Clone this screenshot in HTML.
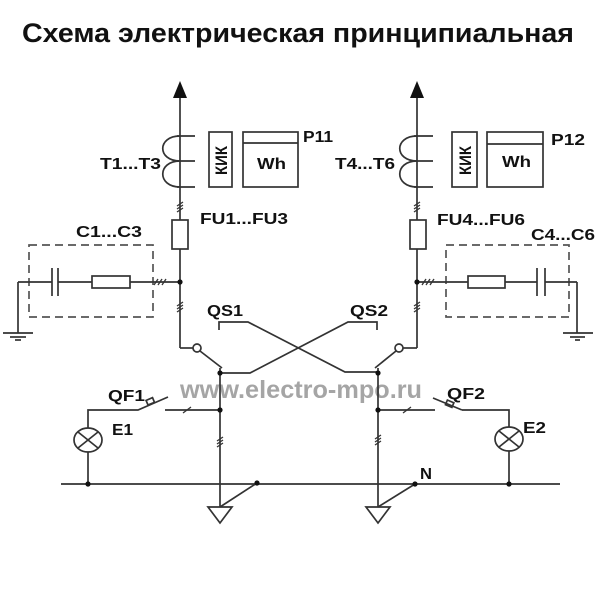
<!DOCTYPE html>
<html><head><meta charset="utf-8"><style>
html,body{margin:0;padding:0;background:#fff;}
svg{display:block;}
text{font-family:"Liberation Sans",Arial,sans-serif;font-weight:bold;fill:#111;}
</style></head><body>
<svg width="600" height="600" viewBox="0 0 600 600" xmlns="http://www.w3.org/2000/svg">
<rect width="600" height="600" fill="#fff"/>
<!-- title -->
<text x="22" y="42" font-size="27" textLength="552" lengthAdjust="spacingAndGlyphs">Схема электрическая принципиальная</text>
<!-- watermark -->
<text x="180" y="398" font-size="25" textLength="242" lengthAdjust="spacingAndGlyphs" style="fill:#a5a5a5">www.electro-mpo.ru</text>

<g stroke="#333" stroke-width="1.7" fill="none">
<!-- LEFT main vertical -->
<line x1="180" y1="95" x2="180" y2="348"/>
<path d="M180,136 C157,136 157,161 180,161 C157,161 157,187 180,187"/>
<line x1="177" y1="136" x2="195" y2="136"/>
<line x1="177" y1="161" x2="195" y2="161"/>
<line x1="177" y1="187" x2="195" y2="187"/>
<rect x="209" y="132" width="23" height="55"/>
<rect x="243" y="132" width="55" height="55"/>
<line x1="243" y1="143" x2="298" y2="143"/>
<rect x="172" y="220" width="16" height="29" fill="#fff"/>
<!-- left C box -->
<rect x="29" y="245" width="124" height="72" stroke-dasharray="8,5" stroke="#555"/>
<line x1="18" y1="282" x2="52" y2="282"/>
<line x1="52" y1="268" x2="52" y2="296"/>
<line x1="58" y1="268" x2="58" y2="296"/>
<line x1="58" y1="282" x2="92" y2="282"/>
<rect x="92" y="276" width="38" height="12"/>
<line x1="130" y1="282" x2="180" y2="282"/>
<line x1="18" y1="282" x2="18" y2="333"/>
<line x1="3" y1="333" x2="33" y2="333"/>
<line x1="10" y1="337" x2="26" y2="337"/>
<line x1="15" y1="340" x2="21" y2="340"/>

<!-- RIGHT main vertical -->
<line x1="417" y1="95" x2="417" y2="348"/>
<path d="M417,136 C394,136 394,161 417,161 C394,161 394,187 417,187"/>
<line x1="414" y1="136" x2="433" y2="136"/>
<line x1="414" y1="161" x2="433" y2="161"/>
<line x1="414" y1="187" x2="433" y2="187"/>
<rect x="452" y="132" width="25" height="55"/>
<rect x="487" y="132" width="56" height="55"/>
<line x1="487" y1="144" x2="543" y2="144"/>
<rect x="410" y="220" width="16" height="29" fill="#fff"/>
<!-- right C box -->
<rect x="446" y="245" width="123" height="72" stroke-dasharray="8,5" stroke="#555"/>
<line x1="417" y1="282" x2="468" y2="282"/>
<rect x="468" y="276" width="37" height="12"/>
<line x1="505" y1="282" x2="537" y2="282"/>
<line x1="537" y1="268" x2="537" y2="296"/>
<line x1="545" y1="268" x2="545" y2="296"/>
<line x1="545" y1="282" x2="577" y2="282"/>
<line x1="577" y1="282" x2="577" y2="333"/>
<line x1="563" y1="333" x2="593" y2="333"/>
<line x1="570" y1="337" x2="585" y2="337"/>
<line x1="575" y1="340" x2="580" y2="340"/>

<!-- ticks on verticals -->
<g stroke-width="1.3">
<line x1="177" y1="206" x2="183" y2="202"/><line x1="177" y1="209" x2="183" y2="205"/><line x1="177" y1="212" x2="183" y2="208"/>
<line x1="177" y1="306" x2="183" y2="302"/><line x1="177" y1="309" x2="183" y2="305"/><line x1="177" y1="312" x2="183" y2="308"/>
<line x1="414" y1="206" x2="420" y2="202"/><line x1="414" y1="209" x2="420" y2="205"/><line x1="414" y1="212" x2="420" y2="208"/>
<line x1="414" y1="306" x2="420" y2="302"/><line x1="414" y1="309" x2="420" y2="305"/><line x1="414" y1="312" x2="420" y2="308"/>
<line x1="217" y1="441" x2="223" y2="437"/><line x1="217" y1="444" x2="223" y2="440"/><line x1="217" y1="447" x2="223" y2="443"/>
<line x1="375" y1="439" x2="381" y2="435"/><line x1="375" y1="442" x2="381" y2="438"/><line x1="375" y1="445" x2="381" y2="441"/>
<!-- ticks on horizontals -->
<line x1="154" y1="285" x2="158" y2="279"/><line x1="158" y1="285" x2="162" y2="279"/><line x1="162" y1="285" x2="166" y2="279"/>
<line x1="422" y1="285" x2="426" y2="279"/><line x1="426" y1="285" x2="430" y2="279"/><line x1="430" y1="285" x2="434" y2="279"/>
<line x1="183" y1="413" x2="191" y2="407"/>
<line x1="403" y1="413" x2="411" y2="407"/>
</g>

<!-- QS1 -->
<line x1="180" y1="348" x2="193" y2="348"/>
<circle cx="197" cy="348" r="4" fill="#fff"/>
<line x1="200" y1="351" x2="222" y2="368"/>
<line x1="220" y1="368" x2="220" y2="507"/>
<polyline points="220,373 250,373 348,322 377,322 377,330"/>
<polyline points="219,330 219,322 248,322 345,372 378,372"/>
<!-- QS2 -->
<line x1="417" y1="348" x2="403" y2="348"/>
<circle cx="399" cy="348" r="4" fill="#fff"/>
<line x1="396" y1="351" x2="375" y2="368"/>
<line x1="378" y1="368" x2="378" y2="507"/>

<!-- QF1 / E1 -->
<polyline points="88,428 88,410 138,410 168,397"/>
<rect x="147" y="399" width="7" height="5" transform="rotate(-23 150 402)"/>
<line x1="165" y1="410" x2="220" y2="410"/>
<ellipse cx="88" cy="440" rx="14" ry="12"/>
<line x1="78" y1="432" x2="98" y2="448"/>
<line x1="98" y1="432" x2="78" y2="448"/>
<line x1="88" y1="452" x2="88" y2="484"/>
<!-- QF2 / E2 -->
<line x1="378" y1="410" x2="435" y2="410"/>
<line x1="433" y1="398" x2="462" y2="410"/>
<rect x="446" y="401" width="7" height="5" transform="rotate(23 449 404)"/>
<polyline points="462,410 509,410 509,427"/>
<ellipse cx="509" cy="439" rx="14" ry="12"/>
<line x1="499" y1="431" x2="519" y2="447"/>
<line x1="519" y1="431" x2="499" y2="447"/>
<line x1="509" y1="451" x2="509" y2="484"/>

<!-- bus -->
<line x1="61" y1="484" x2="560" y2="484"/>
<!-- grounds bottom -->
<polygon points="208,507 232,507 220,523"/>
<line x1="220" y1="507" x2="257" y2="483"/>
<polygon points="366,507 390,507 378,523"/>
<line x1="378" y1="507" x2="415" y2="484"/>
</g>

<!-- arrows -->
<polygon points="180,81 173,98 187,98" fill="#111"/>
<polygon points="417,81 410,98 424,98" fill="#111"/>

<!-- junction dots -->
<g fill="#111">
<circle cx="180" cy="282" r="2.6"/>
<circle cx="417" cy="282" r="2.6"/>
<circle cx="220" cy="373" r="2.6"/>
<circle cx="378" cy="373" r="2.6"/>
<circle cx="220" cy="410" r="2.6"/>
<circle cx="378" cy="410" r="2.6"/>
<circle cx="88" cy="484" r="2.6"/>
<circle cx="509" cy="484" r="2.6"/>
<circle cx="257" cy="483" r="2.6"/>
<circle cx="415" cy="484" r="2.6"/>
</g>

<!-- labels -->
<g font-size="16">
<text x="100" y="169" textLength="61" lengthAdjust="spacingAndGlyphs">T1...T3</text>
<text x="335" y="169" textLength="60" lengthAdjust="spacingAndGlyphs">T4...T6</text>
<text x="257" y="169" textLength="29" lengthAdjust="spacingAndGlyphs">Wh</text>
<text x="502" y="167" textLength="29" lengthAdjust="spacingAndGlyphs">Wh</text>
<text transform="translate(227 175) rotate(-90)" x="0" y="0" font-size="17" textLength="29" lengthAdjust="spacingAndGlyphs">КИК</text>
<text transform="translate(471 175) rotate(-90)" x="0" y="0" font-size="17" textLength="29" lengthAdjust="spacingAndGlyphs">КИК</text>
<text x="303" y="142" textLength="30" lengthAdjust="spacingAndGlyphs">P11</text>
<text x="551" y="145" textLength="34" lengthAdjust="spacingAndGlyphs">P12</text>
<text x="200" y="224" textLength="88" lengthAdjust="spacingAndGlyphs">FU1...FU3</text>
<text x="437" y="225" textLength="88" lengthAdjust="spacingAndGlyphs">FU4...FU6</text>
<text x="76" y="237" textLength="66" lengthAdjust="spacingAndGlyphs">C1...C3</text>
<text x="531" y="240" textLength="64" lengthAdjust="spacingAndGlyphs">C4...C6</text>
<text x="207" y="316" textLength="36" lengthAdjust="spacingAndGlyphs">QS1</text>
<text x="350" y="316" textLength="38" lengthAdjust="spacingAndGlyphs">QS2</text>
<text x="108" y="401" textLength="37" lengthAdjust="spacingAndGlyphs">QF1</text>
<text x="447" y="399" textLength="38" lengthAdjust="spacingAndGlyphs">QF2</text>
<text x="112" y="435" textLength="21" lengthAdjust="spacingAndGlyphs">E1</text>
<text x="523" y="433" textLength="23" lengthAdjust="spacingAndGlyphs">E2</text>
<text x="420" y="479" textLength="12" lengthAdjust="spacingAndGlyphs">N</text>
</g>
</svg>
</body></html>
